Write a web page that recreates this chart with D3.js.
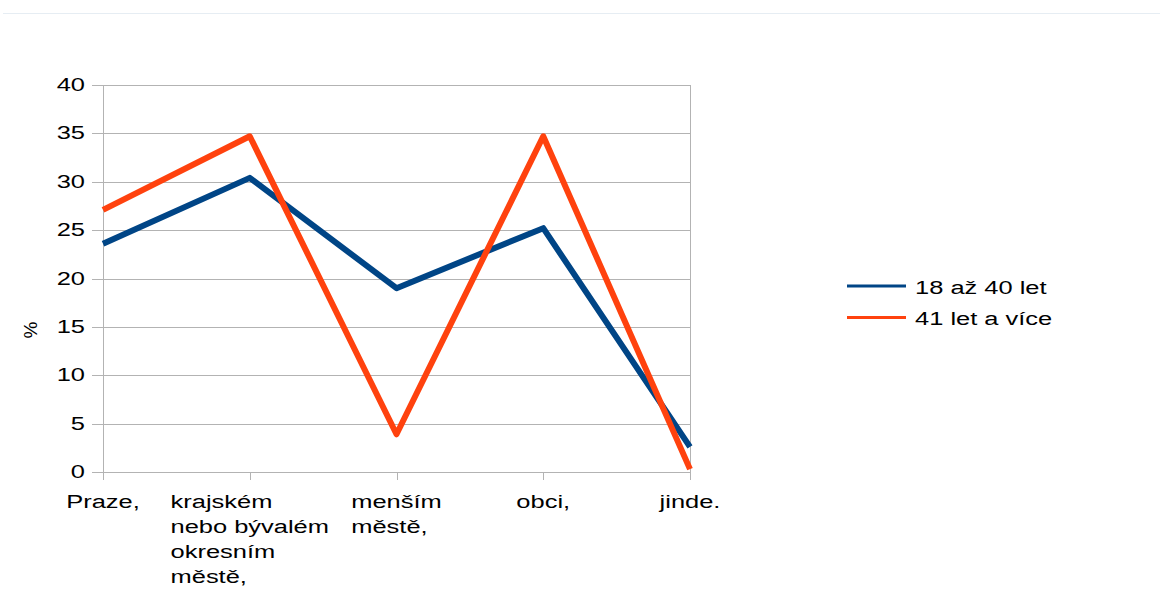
<!DOCTYPE html>
<html>
<head>
<meta charset="utf-8">
<script src="https://cdn.jsdelivr.net/npm/d3@7"></script>
<style>
  body { margin: 0; background: #fff; }
  text { font-family: "Liberation Sans", Arial, sans-serif; fill: #000; }
</style>
</head>
<body>
<div id="chart"></div>
<script>
var categories = ["Praze,", "krajském nebo bývalém okresním městě,", "menším městě,", "obci,", "jinde."];
var categoryLines = [["Praze,"], ["krajském", "nebo bývalém", "okresním", "městě,"], ["menším", "městě,"], ["obci,"], ["jinde."]];
var seriesNames = ["18 až 40 let", "41 let a více"];
var young = [23.6, 30.4, 19.0, 25.2, 2.6];
var older = [27.1, 34.7, 3.9, 34.7, 0.3];
var yTicks = [0, 5, 10, 15, 20, 25, 30, 35, 40];
var colors = ["#004586", "#ff420e"];

var fontSize = 19;
var stretch = 1.34; // text in the reference is drawn wide

// text placed at (x,y), stretched horizontally around its anchor
function wideText(parent, x, y, str, anchor){
    var g = parent.append("g")
        .attr("transform", "translate(" + x + "," + y + ") scale(" + stretch + ",1)");
    return g.append("text")
        .attr("text-anchor", anchor || "start")
        .attr("font-size", fontSize + "px")
        .text(str);
}

function init(){
    var w = 1160, h = 599;
    var left = 103, right = 690, top = 85, bottom = 472;

    var svg = d3.select("#chart").append("svg")
        .attr("width", w)
        .attr("height", h);

    // faint top rule
    svg.append("line")
        .attr("x1", 3).attr("x2", w)
        .attr("y1", 13.5).attr("y2", 13.5)
        .attr("stroke", "#e6edf3").attr("stroke-width", 1);

    var xScale = d3.scalePoint()
        .domain(d3.range(categories.length))
        .range([left, right]);

    var yScale = d3.scaleLinear()
        .domain([0, 40])
        .range([bottom, top]);

    // grid lines
    svg.append("g").selectAll("line")
        .data(yTicks)
        .enter().append("line")
        .attr("x1", left - 11).attr("x2", right)
        .attr("y1", function(d){ return Math.round(yScale(d)) + 0.5; })
        .attr("y2", function(d){ return Math.round(yScale(d)) + 0.5; })
        .attr("stroke", "#b3b3b3").attr("stroke-width", 1);

    // left axis & right border
    [left, right].forEach(function(x){
        svg.append("line")
            .attr("x1", x + 0.5).attr("x2", x + 0.5)
            .attr("y1", top).attr("y2", bottom + 8)
            .attr("stroke", "#b3b3b3").attr("stroke-width", 1);
    });

    // x ticks
    svg.append("g").selectAll("line")
        .data(d3.range(categories.length))
        .enter().append("line")
        .attr("x1", function(i){ return Math.round(xScale(i)) + 0.5; })
        .attr("x2", function(i){ return Math.round(xScale(i)) + 0.5; })
        .attr("y1", bottom).attr("y2", bottom + 8)
        .attr("stroke", "#b3b3b3").attr("stroke-width", 1);

    // y tick labels
    var yl = svg.append("g");
    yTicks.forEach(function(d){
        wideText(yl, 85, yScale(d) + 6, d, "end");
    });

    // y axis title
    svg.append("text")
        .attr("transform", "translate(37,330) rotate(-90)")
        .attr("text-anchor", "middle")
        .attr("font-size", fontSize + "px")
        .text("%");

    // category labels, left aligned block centered on tick
    categoryLines.forEach(function(lines, i){
        var g = svg.append("g");
        var texts = lines.map(function(s, j){
            return wideText(g, 0, 508 + j * 25, s, "start");
        });
        var maxW = 0;
        texts.forEach(function(t){ maxW = Math.max(maxW, t.node().getComputedTextLength()); });
        g.attr("transform", "translate(" + (xScale(i) - maxW * stretch / 2) + ",0)");
    });

    // lines
    var line = d3.line()
        .x(function(d, i){ return xScale(i); })
        .y(function(d){ return yScale(d); });

    [young, older].forEach(function(s, k){
        svg.append("path")
            .datum(s)
            .attr("d", line)
            .attr("fill", "none")
            .attr("stroke", colors[k])
            .attr("stroke-width", 6)
            .attr("stroke-linejoin", "round");
    });

    // legend
    var lg = svg.append("g");
    seriesNames.forEach(function(name, k){
        var y = 286 + k * 31.5;
        lg.append("line")
            .attr("x1", 847).attr("x2", 906)
            .attr("y1", y).attr("y2", y)
            .attr("stroke", colors[k]).attr("stroke-width", 3);
        wideText(lg, 915, y + 7.5, name, "start");
    });
}

window.onload = init;
</script>
</body>
</html>
